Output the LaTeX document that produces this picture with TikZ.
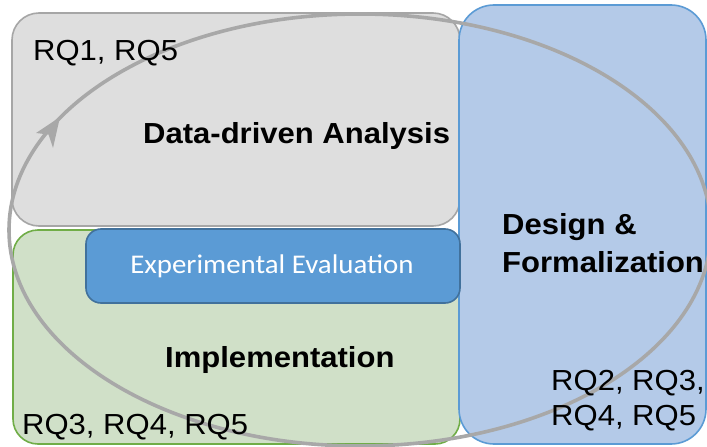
\documentclass[tikz,border=0pt]{standalone}
\usepackage{fontspec}
\usepackage{graphicx}
\setmainfont{Liberation Sans}
\newfontfamily\calibrifont{Carlito}
\definecolor{grayfill}{HTML}{DEDEDE}
\definecolor{graydraw}{HTML}{A6A6A6}
\definecolor{greenfill}{HTML}{D0E0C8}
\definecolor{greendraw}{HTML}{70AD47}
\definecolor{bluefill}{HTML}{B4CAE8}
\definecolor{bluedraw}{HTML}{5B9BD5}
\definecolor{evalfill}{HTML}{5B9BD5}
\definecolor{evaldraw}{HTML}{41719C}
\definecolor{cyclecol}{HTML}{A8A8A8}
\newcommand{\wx}[1]{\scalebox{1.07}[1]{#1}}
\begin{document}
\begin{tikzpicture}[x=1pt,y=-1pt,
  box/.style={rectangle, line width=1.6pt, inner sep=0pt},
  lbl/.style={inner sep=0pt, font=\fontsize{29}{34}\selectfont, text=black},
  blbl/.style={lbl, font=\fontsize{29}{34}\selectfont\bfseries}]
\useasboundingbox (0,0) rectangle (707,447);
\fill[white] (0,0) rectangle (707,447);
% boxes
\node[box, fill=grayfill, draw=graydraw, rounded corners=27pt,
  minimum width=448pt, minimum height=213pt] (dda) at (236,119.5) {};
\node[box, fill=greenfill, draw=greendraw, rounded corners=25pt,
  minimum width=447pt, minimum height=214pt] (impl) at (236.5,337) {};
\node[box, fill=bluefill, draw=bluedraw, rounded corners=35pt,
  minimum width=247pt, minimum height=439pt] (des) at (582.5,224.5) {};
\node[box, fill=evalfill, draw=evaldraw, rounded corners=15pt,
  minimum width=374pt, minimum height=74pt] (eval) at (273,266) {};
% cycle
\draw[cyclecol, line width=3.6pt] (360,230) ellipse [x radius=351, y radius=216];
\fill[cyclecol] (60,117) -- (36,133) -- (48.5,134.5) -- (53,148) -- cycle;
% texts
\node[lbl, anchor=base west] (rq15) at (33,60) {\wx{RQ1, RQ5}};
\node[blbl, anchor=base west] (tdda) at (143,143) {\wx{Data-driven Analysis}};
\node[blbl, anchor=base west] (tdes1) at (502,234) {\wx{Design \&}};
\node[blbl, anchor=base west] (tdes2) at (502,272) {\wx{Formalization}};
\node[inner sep=0pt, anchor=base, text=white, font=\calibrifont\fontsize{27}{32}\selectfont] (teval) at (272,273) {\wx{Experimental Evaluation}};
\node[blbl, anchor=base west] (timpl) at (165,367) {\wx{Implementation}};
\node[lbl, anchor=base west] (rq345) at (22,434) {\wx{RQ3, RQ4, RQ5}};
\node[lbl, anchor=base west] (rq23) at (551,390) {\wx{RQ2, RQ3,}};
\node[lbl, anchor=base west] (rq45) at (551,425) {\wx{RQ4, RQ5}};
\end{tikzpicture}
\end{document}
